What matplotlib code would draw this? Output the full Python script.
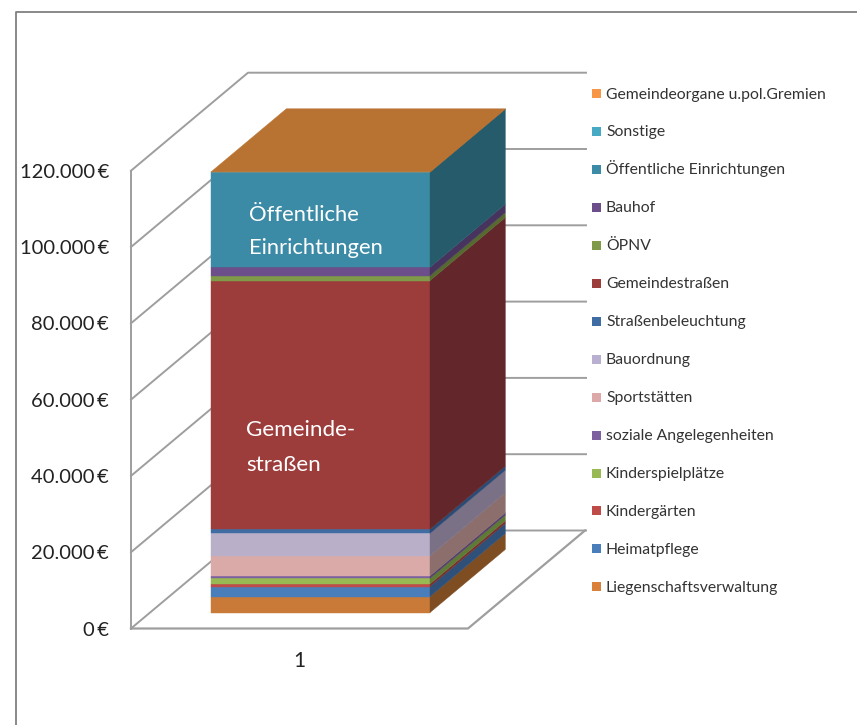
import matplotlib
matplotlib.use('Agg')
import matplotlib.pyplot as plt

plt.rcParams['font.family'] = ['Lato', 'DejaVu Sans']

# stacked from bottom to top, legend is drawn in reverse
categories = ['Liegenschaftsverwaltung', 'Heimatpflege', 'Kindergärten', 'Kinderspielplätze',
              'soziale Angelegenheiten', 'Sportstätten', 'Bauordnung', 'Straßenbeleuchtung',
              'Gemeindestraßen', 'ÖPNV', 'Bauhof', 'Öffentliche Einrichtungen', 'Sonstige',
              'Gemeindeorgane u.pol.Gremien']
values = [4190, 2620, 700, 1470, 630, 5240, 5920, 1050, 65190, 1310, 2180, 24900, 50, 50]
front_colors = ['#C97A38', '#4A7EBB', '#BE4B48', '#98B954', '#7D60A0', '#D9AAA8', '#B9AFC9', '#3F6CA3',
                '#9C3D3C', '#7F9A48', '#6B4E8A', '#3C8BA6', '#46AAC4', '#F79646']
side_colors = ['#7F4D22', '#2F5078', '#7A2F2D', '#5F7A35', '#54406C', '#8C6E6C', '#7A7186', '#2A4B75',
               '#63262A', '#56692F', '#46345E', '#265B6C', '#2D6F80', '#A8642C']
legend_colors = ['#D9803A', '#4A7EBB', '#BE4B48', '#98B954', '#7D60A0', '#DDA8A8', '#B9AFD0', '#3F6CA3',
                 '#9C3D3C', '#7F9A48', '#6B4E8A', '#3C8BA6', '#46AAC4', '#F79646']
top_color = '#B87333'
tick_values = [0, 20000, 40000, 60000, 80000, 100000, 120000]
tick_labels = ['0\u2009€', '20.000\u2009€', '40.000\u2009€', '60.000\u2009€', '80.000\u2009€',
               '100.000\u2009€', '120.000\u2009€']
category_label = '1'

# layout of the fake 3d box, in pixels
px_per_euro = 3.815 / 1000
wall_x0, wall_y0 = 131, 628.5
floor_w = 337
depth_dx, depth_dy = 117, -98
bar_x0, bar_x1 = 211, 430
bar_depth0, bar_depth1 = 0.163, 0.807
grid_col = '#9E9E9E'


def wall(v, d=0.0):
    return wall_x0 + d * depth_dx, wall_y0 - v * px_per_euro + d * depth_dy


def bar_pt(x, v, d):
    return x + (d - bar_depth0) * depth_dx, wall_y0 - v * px_per_euro + d * depth_dy


fig = plt.figure(figsize=(8.57, 7.25), dpi=100)
ax = fig.add_axes([0, 0, 1, 1])
ax.set_xlim(0, 857)
ax.set_ylim(725, 0)
ax.axis('off')

# outer frame
ax.plot([16, 16, 857], [725, 12, 12], color='#808080', lw=1.3)

# walls and grid
for v, lab in zip(tick_values, tick_labels):
    x0, y0 = wall(v)
    x1, y1 = wall(v, 1)
    ax.plot([x0, x1, x1 + floor_w + 1], [y0, y1, y1], color=grid_col, lw=1.4, zorder=1)
    ax.text(x0 - 22, y0 + 1.5, lab, ha='right', va='center', fontsize=14.5, color='#222222')
ax.plot([wall_x0, wall_x0], [wall(0)[1], wall(tick_values[-1])[1]], color=grid_col, lw=1.4, zorder=1)
ax.plot([wall_x0, wall_x0 + floor_w, wall_x0 + floor_w + depth_dx],
        [wall_y0, wall_y0, wall_y0 + depth_dy], color=grid_col, lw=1.6, zorder=1)

# stack
base = 0
for val, fc, sc in zip(values, front_colors, side_colors):
    top = base + val
    a = bar_pt(bar_x0, base, bar_depth0)
    b = bar_pt(bar_x1, base, bar_depth0)
    c = bar_pt(bar_x1, top, bar_depth0)
    d = bar_pt(bar_x0, top, bar_depth0)
    e = bar_pt(bar_x1, base, bar_depth1)
    f = bar_pt(bar_x1, top, bar_depth1)
    ax.fill([a[0], b[0], c[0], d[0]], [a[1], b[1], c[1], d[1]], color=fc, lw=0.3, zorder=3)
    ax.fill([b[0], e[0], f[0], c[0]], [b[1], e[1], f[1], c[1]], color=sc, lw=0.3, zorder=3)
    base = top
p = [bar_pt(bar_x0, base, bar_depth0), bar_pt(bar_x1, base, bar_depth0),
     bar_pt(bar_x1, base, bar_depth1), bar_pt(bar_x0, base, bar_depth1)]
ax.fill([q[0] for q in p], [q[1] for q in p], color=top_color, lw=0.3, zorder=3)

# labels inside the bar
ax.text(249, 215, 'Öffentliche', color='white', fontsize=15.8, va='center', zorder=4)
ax.text(249, 248, 'Einrichtungen', color='white', fontsize=15.8, va='center', zorder=4)
ax.text(246, 430, 'Gemeinde-', color='white', fontsize=16.2, va='center', zorder=4)
ax.text(246, 465, 'straßen', color='white', fontsize=16.2, va='center', zorder=4)

ax.text(299, 661, category_label, ha='center', va='center', fontsize=15, color='#222222')

# legend
for i, (name, col) in enumerate(zip(categories[::-1], legend_colors[::-1])):
    y = 93.5 + i * 37.95
    ax.fill([592, 601, 601, 592], [y - 4.5, y - 4.5, y + 4.5, y + 4.5], color=col, lw=0)
    ax.text(606, y + 5, name, va='baseline', fontsize=11.35, color='#333333')

fig.savefig('out.png', dpi=100)
